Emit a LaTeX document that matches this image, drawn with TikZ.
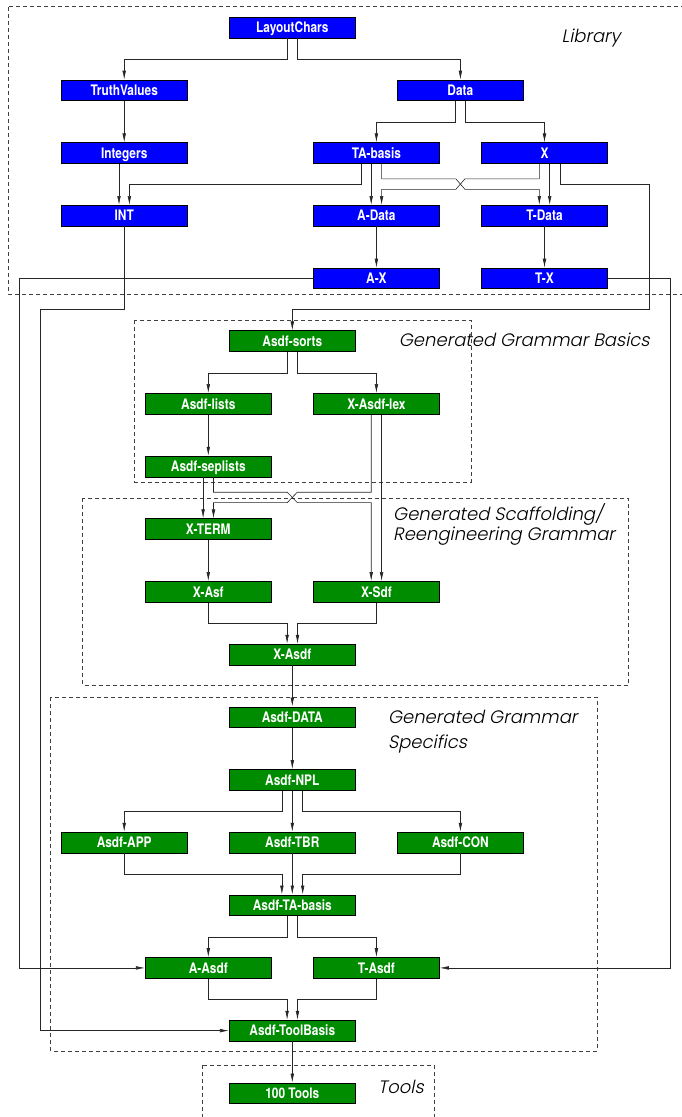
\documentclass[tikz,border=0pt]{standalone}
\usepackage{fontspec}
\usetikzlibrary{arrows.meta,calc}
\newfontfamily\boxfont[FakeStretch=0.82]{TeX Gyre Heros}
\newfontfamily\grpfont[FakeSlant=0.2]{Poppins Light}
\definecolor{libblue}{RGB}{0,0,255}
\definecolor{gengreen}{RGB}{0,140,0}

\tikzset{
	modbox/.style={draw=black, line width=0.7pt, minimum width=126pt, minimum height=20.7pt,
		inner sep=0pt, text=white, text height=10.4pt, text depth=0pt,
		font=\boxfont\bfseries\fontsize{14.5}{14.5}\selectfont},
	libmod/.style={modbox, fill=libblue},
	genmod/.style={modbox, fill=gengreen},
	grpbox/.style={draw=black!75, line width=0.7pt, dash pattern=on 4pt off 3pt},
	grplabel/.style={anchor=base west, inner sep=0pt, align=left},
	dep/.style={draw=black!85, line width=0.6pt, -{Latex[length=9pt,width=3.6pt]}},
}

\begin{document}
\begin{tikzpicture}[x=1pt,y=-1pt]
		\useasboundingbox (0,0) rectangle (681,1117);
		
		% Groups
		\draw[grpbox] (8.7,6.7) rectangle (700,294);
		\draw[grpbox] (134.6,320.3) rectangle (471.2,482);
		\draw[grpbox] (82.5,498.3) rectangle (628.4,685.3);
		\draw[grpbox] (50.8,697) rectangle (597.1,1051);
		\draw[grpbox] (202.8,1065) rectangle (433.9,1130);
		
		\node[grplabel, font=\grpfont\fontsize{18}{20}\selectfont] (liblab) at (561.5,42.7) {Library};
		\node[grplabel, font=\grpfont\fontsize{18}{20}\selectfont] (baslab) at (398.7,346.7) {Generated Grammar Basics};
		\node[grplabel, font=\grpfont\fontsize{18}{20}\selectfont] (scaflab) at (393,540) {Generated Scaffolding/\\Reengineering Grammar};
		\node[grplabel, font=\grpfont\fontsize{18}{25}\selectfont] (speclab) at (387.8,748.3) {Generated Grammar\\Specifics};
		\node[grplabel, font=\grpfont\fontsize{18}{20}\selectfont] (toollab) at (377.8,1093.3) {Tools};
		
		% Library modules
		\node[libmod] (lay) at (292.3,27.7) {LayoutChars};
		\node[libmod] (truth) at (124.2,90.4) {TruthValues};
		\node[libmod] (data) at (460.4,90.4) {Data};
		\node[libmod] (ints) at (124.2,153.1) {Integers};
		\node[libmod] (tab) at (376.4,153.1) {TA-basis};
		\node[libmod] (x) at (544.5,153.1) {X};
		\node[libmod] (int) at (124.2,215.7) {INT};
		\node[libmod] (adata) at (376.4,215.7) {A-Data};
		\node[libmod] (tdata) at (544.5,215.7) {T-Data};
		\node[libmod] (ax) at (376.4,278.4) {A-X};
		\node[libmod] (tx) at (544.5,278.4) {T-X};
		
		% Generated modules
		\node[genmod] (sorts) at (292.3,341.1) {Asdf-sorts};
		\node[genmod] (lists) at (208.3,403.8) {Asdf-lists};
		\node[genmod] (lex) at (376.4,403.8) {X-Asdf-lex};
		\node[genmod] (sep) at (208.3,466.5) {Asdf-seplists};
		\node[genmod] (term) at (208.3,529.1) {X-TERM};
		\node[genmod] (asf) at (208.3,591.8) {X-Asf};
		\node[genmod] (sdf) at (376.4,591.8) {X-Sdf};
		\node[genmod] (xasdf) at (292.3,654.5) {X-Asdf};
		\node[genmod] (asdata) at (292.3,717.2) {Asdf-DATA};
		\node[genmod] (npl) at (292.3,779.9) {Asdf-NPL};
		\node[genmod] (app) at (124.2,842.5) {Asdf-APP};
		\node[genmod] (tbr) at (292.3,842.5) {Asdf-TBR};
		\node[genmod] (con) at (460.4,842.5) {Asdf-CON};
		\node[genmod] (tabasis) at (292.3,905.2) {Asdf-TA-basis};
		\node[genmod] (aasdf) at (208.3,967.9) {A-Asdf};
		\node[genmod] (tasdf) at (376.4,967.9) {T-Asdf};
		\node[genmod] (toolb) at (292.3,1030.6) {Asdf-ToolBasis};
		\node[genmod] (tools) at (292.3,1093.3) {100 Tools};
		
		% Crossings and bends
		\coordinate (k1) at (460.4,184.1);
		\coordinate (k2) at (292.3,497.4);
		\coordinate (xr) at (649.3,184.1);
		\coordinate (xr2) at (649.3,309.7);
		\coordinate (il) at (40.4,309.7);
		\coordinate (al) at (19.5,278.4);
		\coordinate (tr) at (670.1,278.4);
		
		% Library dependencies
		\draw[dep] ([xshift=-5.2pt]lay.south) -- ++(0,21) -| (truth.north);
		\draw[dep] ([xshift=5.2pt]lay.south) -- ++(0,21) -| (data.north);
		\draw[dep] (truth.south) -- (ints.north);
		\draw[dep] ([xshift=-5.2pt]data.south) -- ++(0,21) -| (tab.north);
		\draw[dep] ([xshift=5.2pt]data.south) -- ++(0,21) -| (x.north);
		\draw[dep] ([xshift=-5.2pt]ints.south) -- ([xshift=-5.2pt]int.north);
		\draw[dep] ([xshift=-15.6pt]tab.south) -- ++(0,20.7) -| ([xshift=5.2pt]int.north);
		\draw[dep] ([xshift=-5.2pt]tab.south) -- ([xshift=-5.2pt]adata.north);
		\draw[dep] ([xshift=5.2pt]tab.south) |- ([shift={(-4.5,-5.2)}]k1) -- ([shift={(4.5,5.2)}]k1) -| ([xshift=-5.2pt]tdata.north);
		\draw[dep] ([xshift=-5.2pt]x.south) |- ([shift={(4.5,-5.2)}]k1) -- ([shift={(-4.5,5.2)}]k1) -| ([xshift=5.2pt]adata.north);
		\draw[dep] ([xshift=5.2pt]x.south) -- ([xshift=5.2pt]tdata.north);
		\draw[dep] (adata.south) -- (ax.north);
		\draw[dep] (tdata.south) -- (tx.north);
		
		% Library into generated code
		\draw[dep] ([xshift=15.6pt]x.south) |- (xr) -- (xr2) -| (sorts.north);
		\draw[dep] (int.south) |- (il) |- (toolb.west);
		\draw[dep] (ax.west) -- (al) |- (aasdf.west);
		\draw[dep] (tx.east) -- (tr) |- (tasdf.east);
		
		% Generated dependencies
		\draw[dep] ([xshift=-5.2pt]sorts.south) -- ++(0,21) -| (lists.north);
		\draw[dep] ([xshift=5.2pt]sorts.south) -- ++(0,21) -| (lex.north);
		\draw[dep] (lists.south) -- (sep.north);
		\draw[dep] ([xshift=-5.2pt]sep.south) -- ([xshift=-5.2pt]term.north);
		\draw[dep] ([xshift=5.2pt]sep.south) |- ([shift={(-5,-5.2)}]k2) -- ([shift={(5,5.2)}]k2) -| ([xshift=-5.2pt]sdf.north);
		\draw[dep] ([xshift=-5.2pt]lex.south) |- ([shift={(5,-5.2)}]k2) -- ([shift={(-5,5.2)}]k2) -| ([xshift=5.2pt]term.north);
		\draw[dep] ([xshift=5.2pt]lex.south) -- ([xshift=5.2pt]sdf.north);
		\draw[dep] (term.south) -- (asf.north);
		\draw[dep] (asf.south) -- ++(0,21) -| ([xshift=-5.2pt]xasdf.north);
		\draw[dep] (sdf.south) -- ++(0,21) -| ([xshift=5.2pt]xasdf.north);
		\draw[dep] (xasdf.south) -- (asdata.north);
		\draw[dep] (asdata.south) -- (npl.north);
		\draw[dep] ([xshift=-10.4pt]npl.south) -- ++(0,21) -| (app.north);
		\draw[dep] (npl.south) -- (tbr.north);
		\draw[dep] ([xshift=10.4pt]npl.south) -- ++(0,21) -| (con.north);
		\draw[dep] (app.south) -- ++(0,21) -| ([xshift=-10.4pt]tabasis.north);
		\draw[dep] (tbr.south) -- (tabasis.north);
		\draw[dep] (con.south) -- ++(0,21) -| ([xshift=10.4pt]tabasis.north);
		\draw[dep] ([xshift=-5.2pt]tabasis.south) -- ++(0,21) -| (aasdf.north);
		\draw[dep] ([xshift=5.2pt]tabasis.south) -- ++(0,21) -| (tasdf.north);
		\draw[dep] (aasdf.south) -- ++(0,21) -| ([xshift=-5.2pt]toolb.north);
		\draw[dep] (tasdf.south) -- ++(0,21) -| ([xshift=5.2pt]toolb.north);
		\draw[dep] (toolb.south) -- (tools.north);
	\end{tikzpicture}
\end{document}
